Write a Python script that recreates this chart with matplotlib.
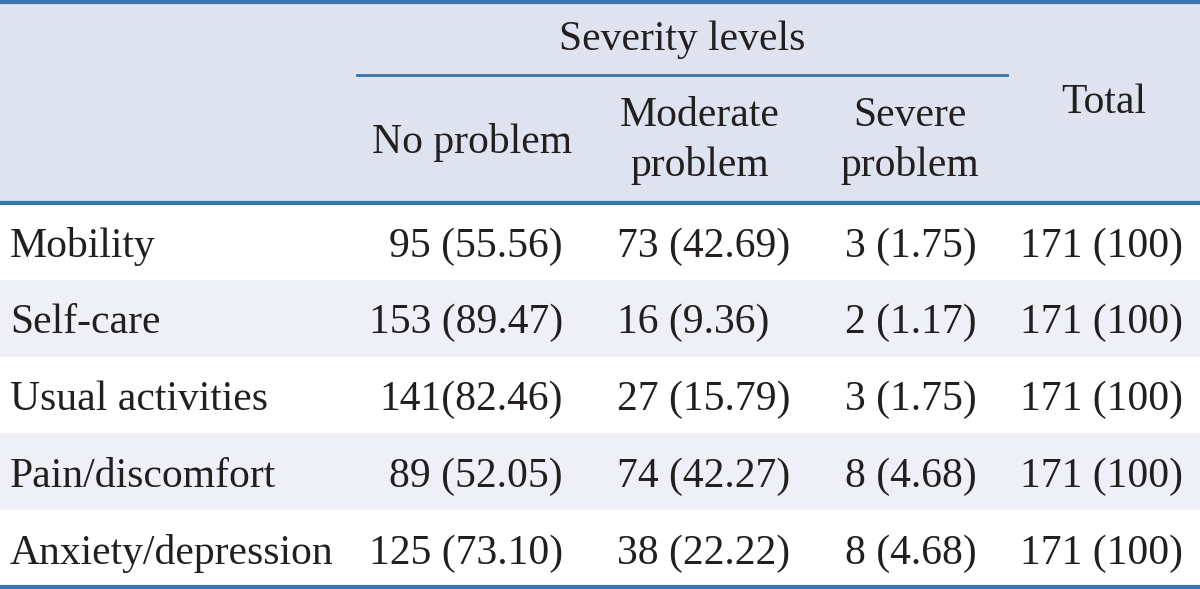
import matplotlib.pyplot as plt
from matplotlib.patches import Rectangle

# table content
dimensions = ["Mobility", "Self-care", "Usual activities", "Pain/discomfort", "Anxiety/depression"]
no_problem = ["95 (55.56)", "153 (89.47)", "141(82.46)", "89 (52.05)", "125 (73.10)"]
moderate = ["73 (42.69)", "16 (9.36)", "27 (15.79)", "74 (42.27)", "38 (22.22)"]
severe = ["3 (1.75)", "2 (1.17)", "3 (1.75)", "8 (4.68)", "8 (4.68)"]
total = ["171 (100)"] * 5
group_title = "Severity levels"
sub_headers = ["No problem", "Moderate\nproblem", "Severe\nproblem"]
total_header = "Total"

W, H = 1200, 589
line_col = "#3676ae"
head_bg = "#dfe2ef"
stripe_bg = "#eff0f7"
fs = 30
font = "Liberation Serif"

fig = plt.figure(figsize=(W / 100, H / 100), dpi=100)
ax = fig.add_axes([0, 0, 1, 1])
ax.set_xlim(0, W)
ax.set_ylim(H, 0)
ax.axis("off")

head_top, head_bot = 2, 203
row_h = (587 - head_bot) / len(dimensions)

ax.add_patch(Rectangle((0, head_top), W, head_bot - head_top, color=head_bg, lw=0))
for i in range(len(dimensions)):
    if i % 2 == 1:
        ax.add_patch(Rectangle((0, head_bot + i * row_h), W, row_h, color=stripe_bg, lw=0))

ax.plot([0, W], [head_top, head_top], color=line_col, lw=3)
ax.plot([0, W], [head_bot, head_bot], color=line_col, lw=3)
ax.plot([0, W], [587, 587], color=line_col, lw=3)
ax.plot([357, 1007], [75, 75], color=line_col, lw=2)

txt = dict(fontsize=fs, family=font, color="#231f20", va="center")
ax.text(682, 40, group_title, ha="center", **txt)
ax.text(472, 142, sub_headers[0], ha="center", **txt)
ax.text(700, 141, sub_headers[1], ha="center", linespacing=1.38, **txt)
ax.text(910, 141, sub_headers[2], ha="center", linespacing=1.38, **txt)
ax.text(1104, 103, total_header, ha="center", **txt)

for i, name in enumerate(dimensions):
    y = head_bot + (i + 0.5) * row_h + 5
    ax.text(10, y, name, ha="left", **txt)
    ax.text(563, y, no_problem[i], ha="right", **txt)
    ax.text(617, y, moderate[i], ha="left", **txt)
    ax.text(977, y, severe[i], ha="right", **txt)
    ax.text(1183, y, total[i], ha="right", **txt)

fig.savefig("out.png", dpi=100, facecolor="white")
